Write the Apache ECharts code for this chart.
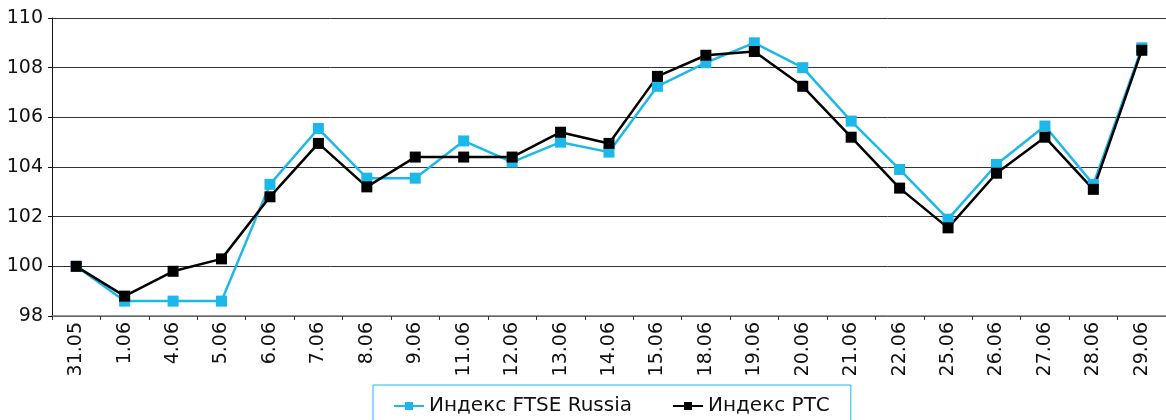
<!DOCTYPE html>
<html>
<head>
<meta charset="utf-8">
<script src="https://cdn.jsdelivr.net/npm/echarts@6/dist/echarts.min.js"></script>
<style>
  html, body { margin: 0; padding: 0; background: #fff; }
  #chart { width: 1166px; height: 420px; }
</style>
</head>
<body>
<div id="chart"></div>
<script>
// даты торгов
const categories = ['31.05', '1.06', '4.06', '5.06', '6.06', '7.06', '8.06', '9.06', '11.06', '12.06',
  '13.06', '14.06', '15.06', '18.06', '19.06', '20.06', '21.06', '22.06', '25.06', '26.06',
  '27.06', '28.06', '29.06'];

const ftseValues = [100, 98.6, 98.6, 98.6, 103.3, 105.55, 103.55, 103.55, 105.05, 104.2,
  105.0, 104.6, 107.25, 108.2, 109.0, 108.0, 105.85, 103.9, 101.9, 104.1,
  105.65, 103.3, 108.8];

const rtsValues = [100, 98.8, 99.8, 100.3, 102.8, 104.95, 103.2, 104.4, 104.4, 104.4,
  105.4, 104.95, 107.65, 108.5, 108.65, 107.25, 105.2, 103.15, 101.55, 103.75,
  105.2, 103.1, 108.7];

const yTicks = { min: 98, max: 110, interval: 2 };

const FONT = 'DejaVu Sans, Liberation Sans, sans-serif';

const chart = echarts.init(document.getElementById('chart'));

const option = {
  animation: false,
  textStyle: { fontFamily: FONT },
  grid: { left: 52, top: 18, width: 1120, height: 298, containLabel: false },
  legend: {
    left: 373,
    top: 385,
    padding: [11, 21, 30, 20],
    borderColor: '#1cb8ea',
    borderWidth: 1,
    itemGap: 40,
    itemWidth: 30,
    itemHeight: 10,
    textStyle: { color: '#111', fontSize: 20, fontFamily: FONT },
    data: ['Индекс FTSE Russia', 'Индекс РТС']
  },
  xAxis: {
    type: 'category',
    data: categories,
    boundaryGap: true,
    axisLine: { lineStyle: { color: '#777', width: 1.5 } },
    axisTick: { show: true, length: 4, lineStyle: { color: '#333' } },
    axisLabel: {
      interval: 0,
      rotate: 90,
      margin: 6,
      color: '#111',
      fontSize: 19
    }
  },
  yAxis: {
    type: 'value',
    min: yTicks.min,
    max: yTicks.max,
    interval: yTicks.interval,
    axisLine: { show: true, lineStyle: { color: '#111', width: 1 } },
    axisTick: { show: true, length: 4, lineStyle: { color: '#111' } },
    axisLabel: { color: '#111', fontSize: 19, margin: 9 },
    splitLine: { show: true, lineStyle: { color: '#333', width: 1 } }
  },
  series: [
    {
      name: 'Индекс FTSE Russia',
      type: 'line',
      data: ftseValues,
      symbol: 'rect',
      symbolSize: 11,
      lineStyle: { color: '#1cb8ea', width: 2.5 },
      itemStyle: { color: '#1cb8ea' }
    },
    {
      name: 'Индекс РТС',
      type: 'line',
      data: rtsValues,
      symbol: 'rect',
      symbolSize: 11,
      lineStyle: { color: '#000', width: 2.5 },
      itemStyle: { color: '#000' }
    }
  ]
};

chart.setOption(option);
</script>
</body>
</html>
